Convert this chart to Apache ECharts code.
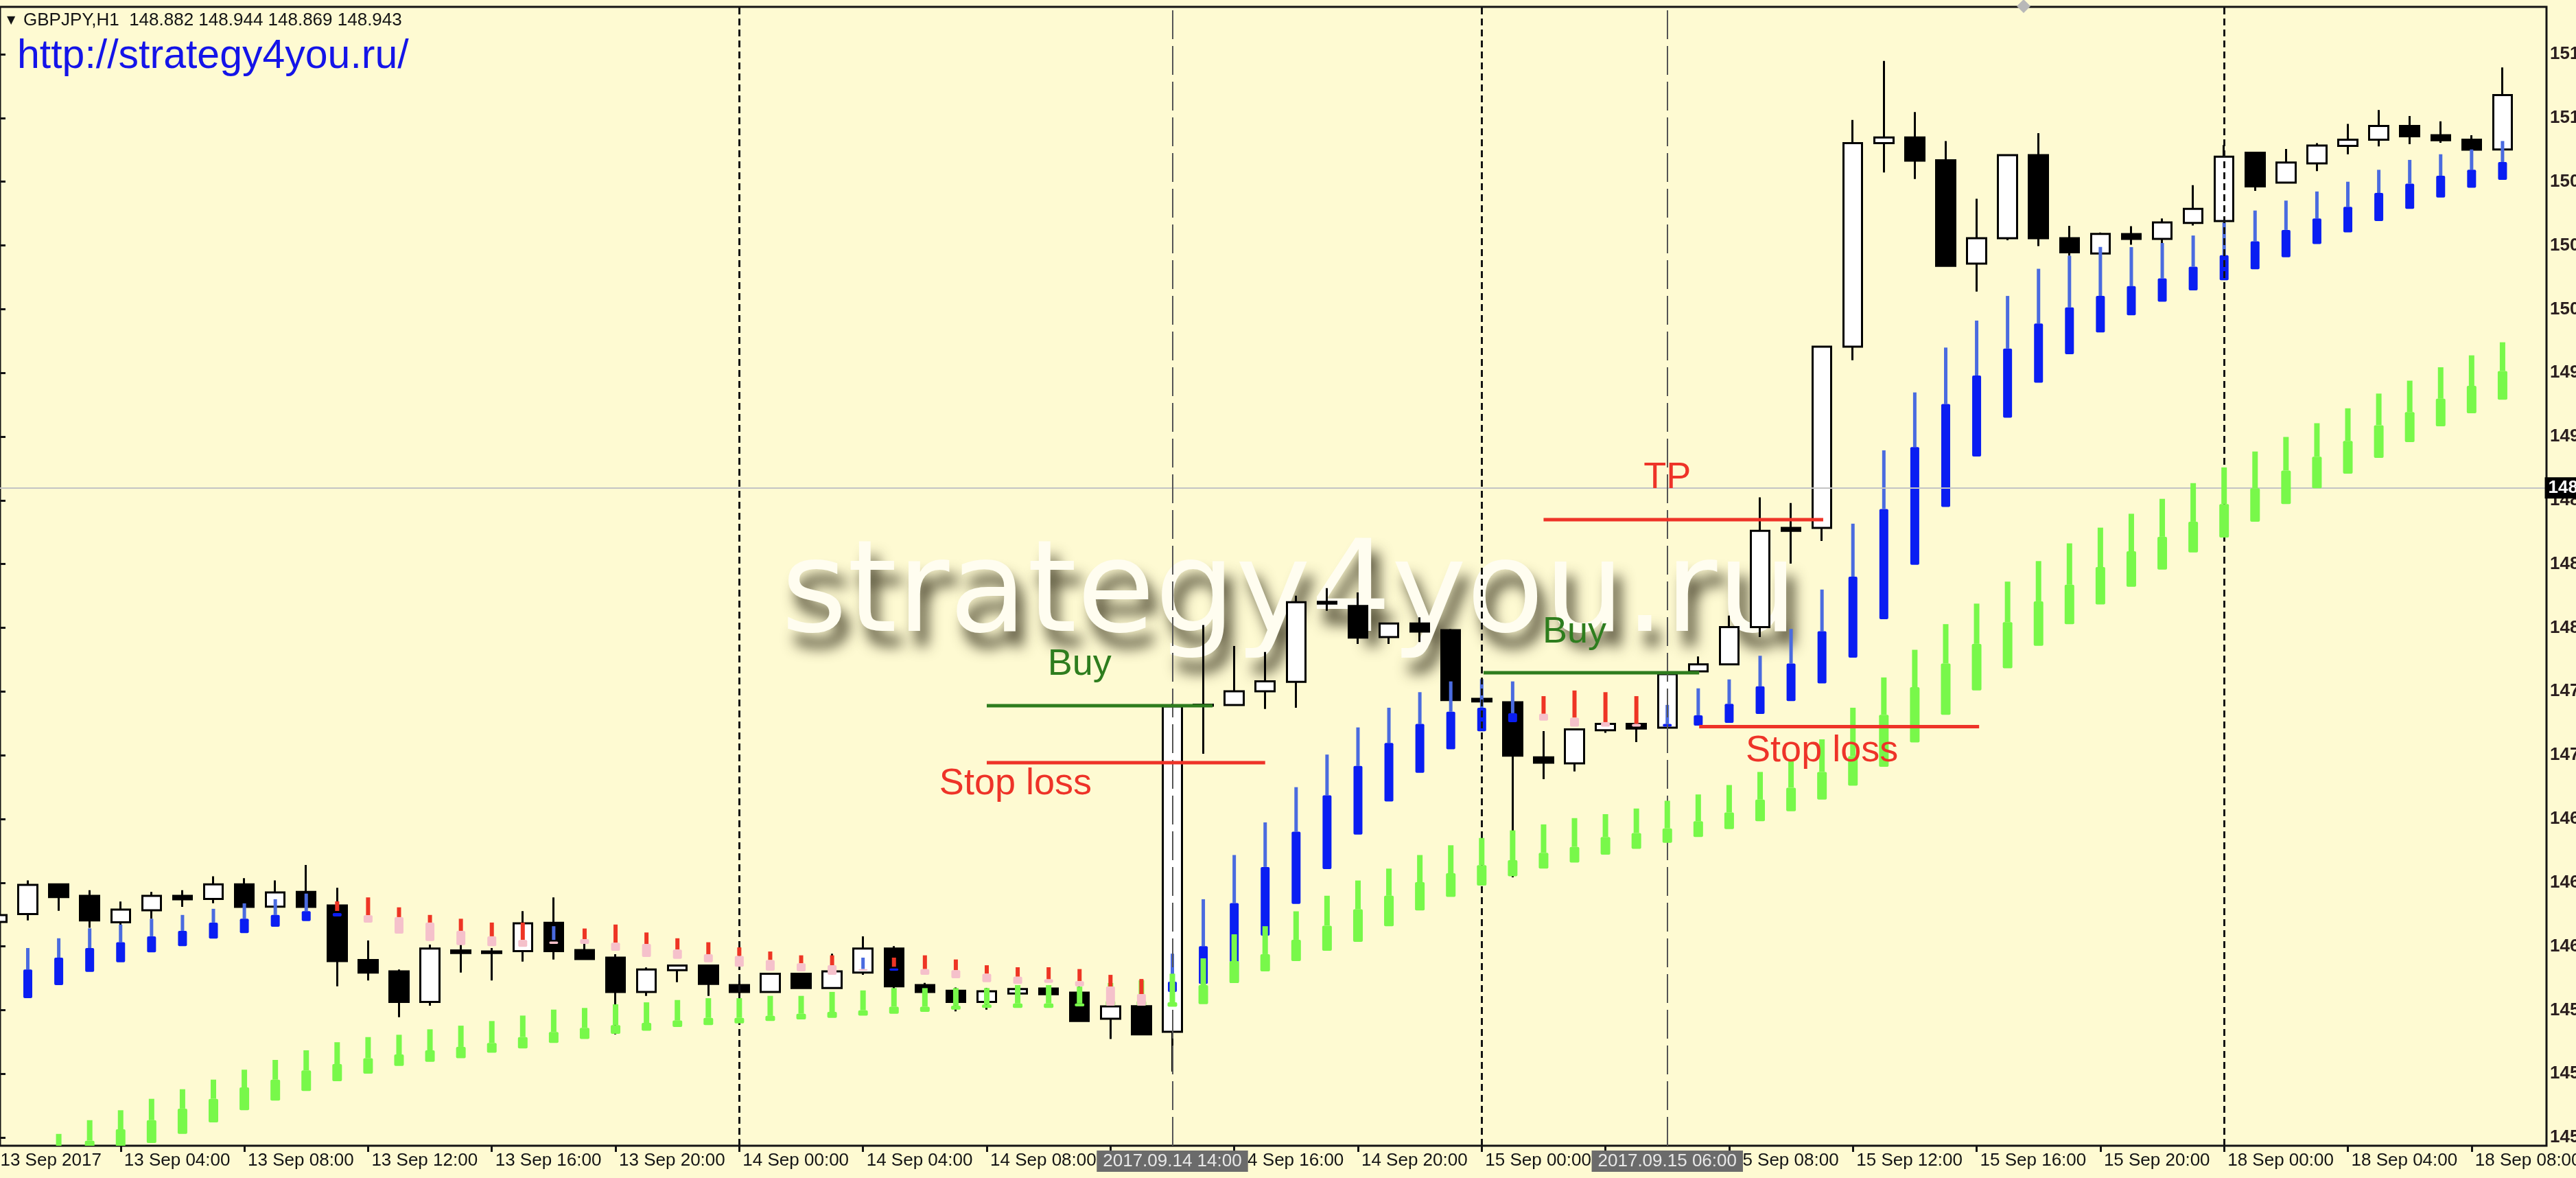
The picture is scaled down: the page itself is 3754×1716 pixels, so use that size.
<!DOCTYPE html>
<html><head><meta charset="utf-8">
<script src="https://cdn.jsdelivr.net/npm/echarts@6/dist/echarts.min.js"></script>
<style>html,body{margin:0;padding:0;background:#FEFAD2;}#c{width:3754px;height:1716px;}</style>
</head><body><div id="c"></div>
<script>
// ---------------- DATA ----------------
const symbolName = 'GBPJPY,H1';
const headerOHLC = [148.882, 148.944, 148.869, 148.943];
const siteUrl = 'http://strategy4you.ru/';
const watermarkText = 'strategy4you.ru';
const dayNames = ['2017.09.13', '2017.09.14', '2017.09.15', '2017.09.18'];
const barsPerDay = [24, 24, 24, 11];
const xTickLabels = ['13 Sep 2017','13 Sep 04:00','13 Sep 08:00','13 Sep 12:00','13 Sep 16:00','13 Sep 20:00',
  '14 Sep 00:00','14 Sep 04:00','14 Sep 08:00','14 Sep 12:00','14 Sep 16:00','14 Sep 20:00',
  '15 Sep 00:00','15 Sep 04:00','15 Sep 08:00','15 Sep 12:00','15 Sep 16:00','15 Sep 20:00',
  '18 Sep 00:00','18 Sep 04:00','18 Sep 08:00'];
const yTickMin = 145.015, yTickStep = 0.385, yTickCount = 18;
const currentPrice = 148.943;
const separatorTimes = ['2017.09.14 00:00', '2017.09.15 00:00', '2017.09.18 00:00'];
const highlightTimes = ['2017.09.14 14:00', '2017.09.15 06:00'];

const open = [146.318,146.365,146.545,146.475,146.316,146.388,146.475,146.457,146.545,146.410,
146.499,146.417,146.088,146.019,145.835,146.146,146.139,146.141,146.312,146.148,
146.102,145.895,146.026,146.054,145.936,145.895,146.005,145.918,146.012,146.157,
145.936,145.902,145.835,145.885,145.915,145.891,145.733,145.809,145.654,147.624,
147.628,147.711,147.768,148.252,148.227,148.039,148.121,148.080,147.666,147.645,
147.312,147.276,147.476,147.514,147.491,147.832,147.874,148.099,148.698,148.698,
149.793,151.023,151.057,150.920,150.295,150.449,150.951,150.449,150.356,150.474,
150.445,150.541,150.552,150.965,150.785,150.901,151.007,151.044,151.127,151.071,
151.044,150.985];
const high = [146.372,146.569,146.550,146.510,146.441,146.499,146.510,146.593,146.582,146.569,
146.662,146.524,146.206,146.030,146.181,146.181,146.160,146.383,146.466,146.206,
146.123,146.043,146.058,146.058,145.971,146.009,146.009,146.126,146.231,146.171,
145.950,145.922,145.918,145.929,145.936,145.929,145.812,145.813,147.637,148.112,
147.985,147.949,148.289,148.334,148.309,148.125,148.158,148.088,147.672,147.649,
147.471,147.485,147.522,147.518,147.819,147.922,148.169,148.883,148.849,149.797,
151.163,151.520,151.211,151.036,150.687,150.955,151.083,150.523,150.483,150.521,
150.568,150.769,151.012,150.969,150.988,151.023,151.139,151.223,151.187,151.155,
151.071,151.480];
const low = [146.309,146.327,146.385,146.282,146.275,146.337,146.409,146.431,146.405,146.406,
146.405,145.929,145.964,145.742,145.812,146.012,145.964,146.078,146.091,146.090,
145.639,145.871,145.954,145.871,145.865,145.891,145.914,145.914,145.998,145.915,
145.891,145.777,145.788,145.881,145.878,145.715,145.611,145.635,145.413,147.334,
147.624,147.604,147.612,148.198,147.998,147.998,148.009,147.654,147.646,146.587,
147.180,147.227,147.460,147.404,147.487,147.828,147.870,148.039,148.483,148.620,
149.711,150.846,150.806,150.278,150.126,150.436,150.401,150.343,150.352,150.409,
150.420,150.525,150.548,150.735,150.781,150.854,150.956,151.004,151.017,151.025,
150.980,150.981];
const close = [146.359,146.542,146.468,146.327,146.392,146.475,146.455,146.545,146.409,146.496,
146.409,146.081,146.012,145.835,146.157,146.130,146.130,146.309,146.141,146.094,
145.895,146.030,146.054,145.943,145.895,146.005,145.918,146.019,146.157,145.929,
145.895,145.835,145.899,145.912,145.881,145.719,145.808,145.639,147.620,147.630,
147.711,147.771,148.249,148.241,148.036,148.121,148.072,147.658,147.650,147.322,
147.280,147.481,147.514,147.486,147.815,147.874,148.099,148.681,148.681,149.793,
151.023,151.057,150.917,150.282,150.449,150.951,150.449,150.364,150.475,150.445,
150.544,150.626,150.941,150.762,150.906,151.009,151.044,151.127,151.065,151.041,
150.984,151.314];

// trend indicator, up mode (blue): thin top, thin/thick boundary, thick bottom
const blueTop = [null,146.160,146.219,146.279,146.302,146.337,146.360,146.397,146.430,146.455,
146.489,146.372,null,null,null,null,null,null,146.292,null,
null,null,null,null,null,null,null,null,146.102,146.037,
null,null,null,null,null,null,null,null,146.126,146.455,
146.722,146.919,147.132,147.329,147.493,147.612,147.706,147.771,147.785,147.771,
null,null,null,null,147.629,147.729,147.783,147.926,148.088,148.326,
148.724,149.167,149.517,149.788,149.951,150.100,150.264,150.343,150.396,150.395,
150.420,150.465,150.544,150.616,150.676,150.731,150.790,150.862,150.922,150.956,
150.985,151.036];
const blueMid = [null,146.030,146.102,146.160,146.195,146.231,146.264,146.314,146.337,146.360,
146.383,146.372,null,null,null,null,null,null,146.209,null,
null,null,null,null,null,null,null,null,146.033,146.037,
null,null,null,null,null,null,null,null,145.957,146.171,
146.432,146.650,146.863,147.083,147.260,147.399,147.514,147.588,147.612,147.579,
null,null,null,null,147.514,147.566,147.636,147.741,147.879,148.074,
148.404,148.813,149.187,149.447,149.619,149.782,149.933,150.031,150.100,150.159,
150.206,150.277,150.346,150.430,150.499,150.568,150.639,150.722,150.779,150.826,
150.862,150.909];
const blueBot = [null,145.857,145.936,146.016,146.074,146.134,146.171,146.217,146.250,146.289,
146.323,146.351,null,null,null,null,null,null,146.209,null,
null,null,null,null,null,null,null,null,146.033,146.023,
null,null,null,null,null,null,null,null,145.895,145.943,
145.949,146.235,146.427,146.637,146.845,147.046,147.219,147.361,147.470,147.525,
null,null,null,null,147.498,147.504,147.521,147.574,147.652,147.759,
147.915,148.147,148.476,148.825,149.130,149.364,149.576,149.748,149.880,149.983,
150.065,150.134,150.195,150.261,150.334,150.414,150.484,150.552,150.626,150.695,
150.754,150.801];
// trend indicator, down mode (red / pink)
const redTop = [null,null,null,null,null,null,null,null,null,null,
null,146.442,146.466,146.406,146.360,146.337,146.314,146.314,146.199,146.278,
146.302,146.254,146.219,146.195,146.164,146.139,146.116,146.116,146.033,146.102,
146.116,146.091,146.056,146.044,146.044,146.033,145.998,145.973,null,null,
null,null,null,null,null,null,null,null,null,null,
147.682,147.716,147.706,147.682,null,null,null,null,null,null,
null,null,null,null,null,null,null,null,null,null,
null,null,null,null,null,null,null,null,null,null,
null,null];
const redMid = [null,null,null,null,null,null,null,null,null,null,
null,146.384,146.358,146.347,146.314,146.264,146.231,146.209,146.199,146.214,
146.192,146.185,146.151,146.123,146.112,146.088,146.068,146.056,146.033,146.047,
146.033,146.026,146.005,145.987,145.971,145.960,145.928,145.882,null,null,
null,null,null,null,null,null,null,null,null,null,
147.575,147.552,147.525,147.514,null,null,null,null,null,null,
null,null,null,null,null,null,null,null,null,null,
null,null,null,null,null,null,null,null,null,null,
null,null];
const redBot = [null,null,null,null,null,null,null,null,null,null,
null,146.384,146.314,146.247,146.203,146.178,146.171,146.167,146.185,146.185,
146.144,146.106,146.095,146.074,146.047,146.023,146.019,145.998,146.023,146.047,
145.998,145.978,145.954,145.943,145.950,145.929,145.812,145.812,null,null,
null,null,null,null,null,null,null,null,null,null,
147.534,147.498,147.498,147.498,null,null,null,null,null,null,
null,null,null,null,null,null,null,null,null,null,
null,null,null,null,null,null,null,null,null,null,
null,null];
// lower band (green)
const greenTop = [null,null,145.037,145.120,145.180,145.249,145.307,145.365,145.425,145.484,
145.542,145.591,145.622,145.636,145.669,145.691,145.719,145.752,145.788,145.798,
145.820,145.832,145.846,145.857,145.857,145.871,145.871,145.895,145.904,145.918,
145.918,145.918,145.918,145.936,145.936,145.927,145.949,145.965,146.005,146.098,
146.243,146.292,146.382,146.476,146.568,146.640,146.722,146.781,146.825,146.871,
146.907,146.945,146.969,147.003,147.050,147.088,147.145,147.224,147.288,147.421,
147.612,147.795,147.962,148.117,148.241,148.374,148.498,148.605,148.700,148.784,
148.874,148.969,149.064,149.160,149.248,149.331,149.421,149.510,149.588,149.669,
149.741,149.820];
const greenMid = [null,null,144.953,144.996,145.065,145.120,145.190,145.249,145.318,145.365,
145.421,145.459,145.494,145.517,145.542,145.563,145.587,145.622,145.653,145.678,
145.694,145.708,145.722,145.738,145.738,145.750,145.763,145.774,145.784,145.805,
145.805,145.812,145.819,145.825,145.825,145.825,145.841,145.841,145.832,145.936,
146.081,146.123,146.210,146.295,146.394,146.476,146.558,146.612,146.661,146.691,
146.736,146.771,146.831,146.855,146.883,146.926,146.979,147.057,147.129,147.224,
147.319,147.569,147.736,147.879,147.998,148.129,148.255,148.355,148.462,148.557,
148.645,148.736,148.843,148.938,149.045,149.129,149.224,149.319,149.398,149.479,
149.557,149.646];
const greenBot = [null,null,144.879,144.879,144.961,144.982,145.037,145.107,145.180,145.238,
145.296,145.355,145.401,145.448,145.473,145.494,145.528,145.553,145.587,145.611,
145.642,145.660,145.683,145.694,145.705,145.719,145.729,145.738,145.752,145.763,
145.774,145.788,145.798,145.798,145.798,145.808,145.812,145.812,145.805,145.821,
145.949,146.019,146.081,146.144,146.197,146.292,146.387,146.469,146.538,146.594,
146.640,146.676,146.724,146.759,146.796,146.831,146.879,146.926,146.986,147.057,
147.141,147.255,147.402,147.569,147.717,147.850,147.986,148.117,148.236,148.343,
148.446,148.550,148.640,148.736,148.843,148.938,149.026,149.122,149.217,149.312,
149.391,149.473];

// trade annotations: [fromBar, toBar, price]
const buyLines = [[32.0, 39.3, 147.624], [48.06, 55.03, 147.823]];
const stopLines = [[32.0, 41.0, 147.280], [55.03, 64.08, 147.498]];
const tpLines = [[50.0, 59.04, 148.748]];
// annotation texts: [bar, price]
const buyLabels = [[35.0, 147.871], [51.0, 148.068]];
const stopLabels = [[32.93, 147.151], [59.0, 147.350]];
const tpLabels = [[54.0, 149.001]];

// ---------------- LAYOUT ----------------
const plotTop = 10, plotBottom = 1669, plotRight = 3711;
const pxPerUnit = 241.1;
const barStep = 45.08, dataLeft = -27.1;
const categories = [];
dayNames.forEach((d, k) => { for (let h = 0; h < barsPerDay[k]; h++) categories.push(d + ' ' + String(h).padStart(2, '0') + ':00'); });
const yMax = 151.888 - plotTop / pxPerUnit;
const yMin = 151.888 - plotBottom / pxPerUnit;
const yTickMax = yTickMin + (yTickCount - 1) * yTickStep;
const tickGridTop = plotTop + (yMax - yTickMax) * pxPerUnit;
const tickGridBottomPx = plotBottom - (yTickMin - yMin) * pxPerUnit;
const FONT = 'Liberation Sans';

function indicatorSeries(name, top, mid, bot, thinColor, thickColor, thinW, thickW, z) {
  const data = [];
  top.forEach((t, i) => { if (t != null) data.push([i, t, mid[i], bot[i]]); });
  return {
    type: 'custom', name, xAxisIndex: 0, yAxisIndex: 0, z, clip: true, silent: true,
    encode: { x: 0, y: [1, 2, 3] }, data,
    renderItem(params, api) {
      const i = api.value(0);
      const pT = api.coord([i, api.value(1)]);
      const pM = api.coord([i, api.value(2)]);
      const pB = api.coord([i, api.value(3)]);
      const children = [];
      if (pM[1] - pT[1] >= 1) children.push({ type: 'rect', shape: { x: pT[0] - thinW / 2, y: pT[1], width: thinW, height: pM[1] - pT[1] }, style: { fill: thinColor } });
      if (pB[1] - pM[1] >= 1) children.push({ type: 'rect', shape: { x: pM[0] - thickW / 2, y: pM[1], width: thickW, height: pB[1] - pM[1], r: 2 }, style: { fill: thickColor } });
      return { type: 'group', children };
    }
  };
}
function segSeries(segs, color, z) {
  return {
    type: 'custom', xAxisIndex: 0, yAxisIndex: 0, z, silent: true,
    encode: { x: 0, y: 1 }, data: segs.map(s => [0, s[2], s[0], s[1]]),
    renderItem(params, api) {
      const p0 = api.coord([0, api.value(1)]);
      const bw = api.size([1, 0])[0];
      return { type: 'line', shape: { x1: p0[0] + api.value(2) * bw, y1: p0[1], x2: p0[0] + api.value(3) * bw, y2: p0[1] }, style: { stroke: color, lineWidth: 5 } };
    }
  };
}
function textSeries(labels, text, color, z) {
  return {
    type: 'custom', xAxisIndex: 0, yAxisIndex: 0, z, silent: true,
    encode: { x: 0, y: 1 }, data: labels.map(l => [0, l[1], l[0]]),
    renderItem(params, api) {
      const p0 = api.coord([0, api.value(1)]);
      const bw = api.size([1, 0])[0];
      return { type: 'text', style: { text, x: p0[0] + api.value(2) * bw, y: p0[1], fill: color, font: '54px "' + FONT + '"', textAlign: 'center', textVerticalAlign: 'middle', align: 'center', verticalAlign: 'middle' } };
    }
  };
}

const chart = echarts.init(document.getElementById('c'), null, { renderer: 'canvas' });
const option = {
  backgroundColor: '#FEFAD2',
  animation: false,
  textStyle: { fontFamily: FONT },
  grid: [
    { left: dataLeft, top: plotTop, width: barStep * categories.length, height: plotBottom - plotTop, show: false, containLabel: false, outerBoundsMode: 'none' },
    { left: 0, top: tickGridTop, right: 3754 - plotRight, bottom: 1716 - tickGridBottomPx, show: false, containLabel: false, outerBoundsMode: 'none' },
    { left: 0, top: plotTop, right: 3754 - plotRight, bottom: 1716 - plotBottom, show: true, borderColor: '#141414', borderWidth: 3, backgroundColor: 'transparent', containLabel: false, outerBoundsMode: 'none' }
  ],
  xAxis: [
    { type: 'category', gridIndex: 0, data: categories, boundaryGap: true,
      axisLine: { show: false },
      axisTick: { show: true, interval: 3, alignWithLabel: true, length: 9, lineStyle: { color: '#141414', width: 3 } },
      axisLabel: { interval: 3, align: 'left', margin: 9, padding: [0, 0, 0, 5], fontSize: 26, lineHeight: 26, fontFamily: FONT, color: '#141414',
        formatter: (v, idx) => (idx % 4 === 0 ? (xTickLabels[idx / 4] || '') : '') },
      splitLine: { show: false } },
    { type: 'value', gridIndex: 1, show: false, min: 0, max: 1 },
    { type: 'value', gridIndex: 2, show: false, min: 0, max: 1 }
  ],
  yAxis: [
    { type: 'value', gridIndex: 0, min: yMin, max: yMax, show: false },
    { type: 'value', gridIndex: 1, position: 'right', min: yTickMin, max: yTickMax, interval: yTickStep,
      axisLine: { show: false },
      axisTick: { show: true, length: 8, lineStyle: { color: '#141414', width: 3 } },
      axisLabel: { margin: 5, fontSize: 26, fontWeight: 'bold', fontFamily: FONT, color: '#2a1e1e', formatter: v => v.toFixed(3) },
      splitLine: { show: false } },
    { type: 'value', gridIndex: 2, show: false, min: 0, max: 1 }
  ],
  graphic: [
    { type: 'text', z: 0, x: 1879, y: 871, silent: true,
      style: { text: watermarkText, font: '185px "DejaVu Sans"', fill: '#FFFDF0', textAlign: 'center', textVerticalAlign: 'middle',
        textShadowColor: 'rgba(62,58,36,0.9)', textShadowBlur: 20, textShadowOffsetX: 11, textShadowOffsetY: 22 } },
    { type: 'text', z: 10, x: 10, y: 30, silent: true, style: { text: '\u25BC', font: '16px "DejaVu Sans"', fill: '#141414', textVerticalAlign: 'middle' } },
    { type: 'text', z: 10, x: 34, y: 30, silent: true,
      style: { text: symbolName + '  ' + headerOHLC.map(v => v.toFixed(3)).join(' '), font: '26px "' + FONT + '"', fill: '#141414', textVerticalAlign: 'middle' } },
    { type: 'text', z: 10, x: 25, y: 83, silent: true,
      style: { text: siteUrl, font: '59px "' + FONT + '"', fill: '#1414E8', textVerticalAlign: 'middle' } },
    { type: 'polygon', z: 10, silent: true, shape: { points: [[2939, 9], [2949, -1], [2959, 9], [2949, 19]] }, style: { fill: '#B8B8B8' } }
  ],
  series: [
    { type: 'line', xAxisIndex: 0, yAxisIndex: 0, data: [], z: 1, silent: true,
      markLine: { symbol: 'none', silent: true, animation: false,
        data: separatorTimes.map(t => ({ xAxis: t, lineStyle: { type: [10, 6], color: '#141414', width: 3 }, label: { show: false } }))
          .concat([{ yAxis: currentPrice, lineStyle: { type: 'solid', color: '#C4C4C4', width: 2 },
            label: { show: true, position: 'end', distance: -6, formatter: currentPrice.toFixed(3), backgroundColor: '#000', color: '#fff', fontSize: 26, fontWeight: 'bold', lineHeight: 26, fontFamily: FONT, padding: [3, 5, 2, 5] } }]) } },
    { type: 'candlestick', xAxisIndex: 0, yAxisIndex: 0, z: 3, clip: false, silent: true, barWidth: 28,
      data: open.map((o, i) => [o, close[i], low[i], high[i]]),
      itemStyle: { color: '#FFFFFF', color0: '#000000', borderColor: '#000000', borderColor0: '#000000', borderColorDoji: '#000000', borderWidth: 3 },
      markLine: { symbol: 'none', silent: true, animation: false,
        data: highlightTimes.map(t => ({ name: t, xAxis: t })),
        lineStyle: { type: [42, 10], color: '#555555', width: 2 },
        label: { show: true, position: 'start', distance: 7, formatter: '{b}', backgroundColor: '#6B6B6B', color: '#E8E8E8', fontSize: 26, lineHeight: 26, fontFamily: FONT, padding: [3, 9, 2, 9] } } },
    indicatorSeries('up', blueTop, blueMid, blueBot, '#4A6BE0', '#0A1EF2', 5, 13, 4),
    indicatorSeries('band', greenTop, greenMid, greenBot, '#78F84A', '#78F84A', 8, 14, 5),
    indicatorSeries('down', redTop, redMid, redBot, '#EE3524', '#F5C1CB', 6, 13, 6),
    segSeries(buyLines, '#2E7D1E', 7),
    segSeries(stopLines, '#EE3328', 7),
    segSeries(tpLines, '#EE3328', 7),
    textSeries(buyLabels, 'Buy', '#2E7D1E', 8),
    textSeries(stopLabels, 'Stop loss', '#EE3328', 8),
    textSeries(tpLabels, 'TP', '#EE3328', 8)
  ]
};
chart.setOption(option);
</script>
</body></html>
